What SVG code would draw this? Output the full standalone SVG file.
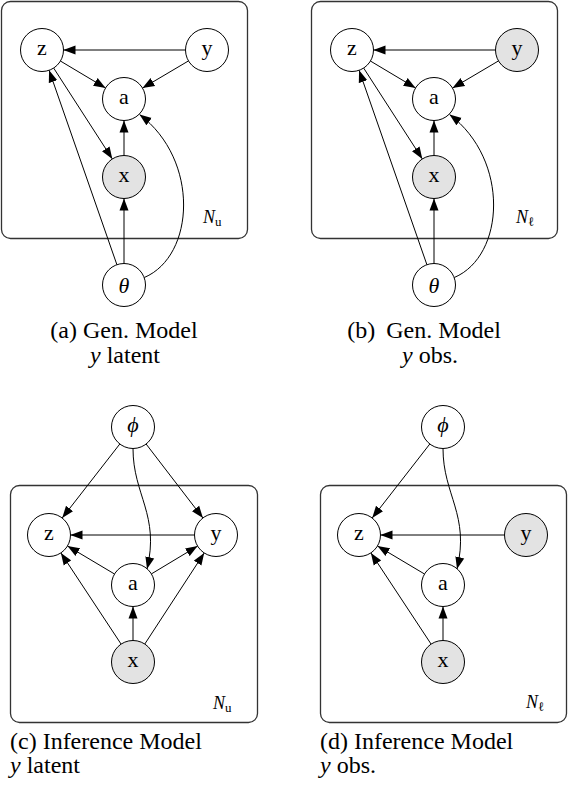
<svg xmlns="http://www.w3.org/2000/svg" width="568" height="786" viewBox="0 0 568 786" font-family="'Liberation Serif', 'Times New Roman', serif">
<defs>
<marker id="arr" markerUnits="userSpaceOnUse" markerWidth="12" markerHeight="10" viewBox="0 0 12 10" refX="12" refY="5" orient="auto">
<path d="M0,0.5 L12,5 L0,9.5 z" fill="#000"/>
</marker>
<style>
.plate{fill:none;stroke:#333;stroke-width:1.3}
.edge{fill:none;stroke:#000;stroke-width:1;marker-end:url(#arr)}
circle{fill:#fff;stroke:#000;stroke-width:1}
circle.obs{fill:#e3e3e3}
text{fill:#000}
.lbl{font-size:22px;text-anchor:middle}
.it{font-style:italic}
.nl{font-size:18px;font-style:italic}
.sub{font-size:13px;font-style:normal}
.cap{font-size:24px}
.mid{text-anchor:middle}
</style>
</defs>
<rect width="568" height="786" fill="#fff"/>

<!-- Panel (a) -->
<g id="panel-a">
<rect class="plate" x="1.5" y="1.5" width="246" height="237" rx="9"/>
<g id="edges-a">
<path class="edge" d="M185.5,50 L63.5,50"/>
<path class="edge" d="M60.4,61 L105.6,88"/>
<path class="edge" d="M188.5,60.9 L142.5,88.1"/>
<path class="edge" d="M53.7,68.1 L112.3,158.9"/>
<path class="edge" d="M124,155.5 L124,120.5"/>
<path class="edge" d="M124,263.5 L124,198.5"/>
<path class="edge" d="M116.9,264.7 L49.1,70.3"/>
<path class="edge" d="M144.3,277.5 C195,256 200,160 139.5,114.5"/>
</g>
<g id="a-z"><circle cx="42" cy="50" r="21.5"/><text class="lbl" x="42" y="55">z</text></g>
<g id="a-y"><circle cx="207" cy="50" r="21.5"/><text class="lbl" x="207" y="55">y</text></g>
<g id="a-a"><circle cx="124" cy="99" r="21.5"/><text class="lbl" x="124" y="104">a</text></g>
<g id="a-x"><circle class="obs" cx="124" cy="177" r="21.5"/><text class="lbl" x="124" y="182">x</text></g>
<g id="a-theta"><circle cx="124" cy="285" r="21.5"/><text class="lbl it" x="124" y="293">θ</text></g>
<text class="nl" x="203" y="223">N<tspan class="sub" dy="3">u</tspan></text>
<text class="cap mid" x="124" y="338">(a) Gen. Model</text>
<text class="cap mid" x="125" y="363"><tspan class="it">y</tspan> latent</text>
</g>

<!-- Panel (b) -->
<g id="panel-b" transform="translate(310,0)">
<rect class="plate" x="1.5" y="1.5" width="246" height="237" rx="9"/>
<g id="edges-b">
<path class="edge" d="M185.5,50 L63.5,50"/>
<path class="edge" d="M60.4,61 L105.6,88"/>
<path class="edge" d="M188.5,60.9 L142.5,88.1"/>
<path class="edge" d="M53.7,68.1 L112.3,158.9"/>
<path class="edge" d="M124,155.5 L124,120.5"/>
<path class="edge" d="M124,263.5 L124,198.5"/>
<path class="edge" d="M116.9,264.7 L49.1,70.3"/>
<path class="edge" d="M144.3,277.5 C195,256 200,160 139.5,114.5"/>
</g>
<g id="b-z"><circle cx="42" cy="50" r="21.5"/><text class="lbl" x="42" y="55">z</text></g>
<g id="b-y"><circle class="obs" cx="207" cy="50" r="21.5"/><text class="lbl" x="207" y="55">y</text></g>
<g id="b-a"><circle cx="124" cy="99" r="21.5"/><text class="lbl" x="124" y="104">a</text></g>
<g id="b-x"><circle class="obs" cx="124" cy="177" r="21.5"/><text class="lbl" x="124" y="182">x</text></g>
<g id="b-theta"><circle cx="124" cy="285" r="21.5"/><text class="lbl it" x="124" y="293">θ</text></g>
<text class="nl" x="206" y="223">N<tspan class="sub it" dy="3">ℓ</tspan></text>
<text class="cap mid" x="114" y="338">(b) <tspan dx="5">Gen. Model</tspan></text>
<text class="cap mid" x="120" y="363"><tspan class="it">y</tspan> obs.</text>
</g>

<!-- Panel (c) -->
<g id="panel-c">
<rect class="plate" x="10.5" y="485.5" width="247" height="237" rx="9"/>
<g id="edges-c">
<path class="edge" d="M119.8,444 L62.2,518"/>
<path class="edge" d="M146.1,444 L202.9,518"/>
<path class="edge" d="M133,448.5 C133,495 160,515 147,569"/>
<path class="edge" d="M194.5,535 L70.5,535"/>
<path class="edge" d="M114.5,574 L67.5,546"/>
<path class="edge" d="M151.4,573.9 L197.6,546.1"/>
<path class="edge" d="M121.1,644.1 L60.9,552.9"/>
<path class="edge" d="M144.8,644 L204.2,553"/>
<path class="edge" d="M133,640.5 L133,606.5"/>
</g>
<g id="c-phi"><circle cx="133" cy="427" r="21.5"/><text class="lbl it" x="133" y="432">ϕ</text></g>
<g id="c-z"><circle cx="49" cy="535" r="21.5"/><text class="lbl" x="49" y="540">z</text></g>
<g id="c-y"><circle cx="216" cy="535" r="21.5"/><text class="lbl" x="216" y="540">y</text></g>
<g id="c-a"><circle cx="133" cy="585" r="21.5"/><text class="lbl" x="133" y="590">a</text></g>
<g id="c-x"><circle class="obs" cx="133" cy="662" r="21.5"/><text class="lbl" x="133" y="667">x</text></g>
<text class="nl" x="213" y="709">N<tspan class="sub" dy="3">u</tspan></text>
<text class="cap" x="10" y="749">(c) Inference Model</text>
<text class="cap" x="10" y="773"><tspan class="it">y</tspan> latent</text>
</g>

<!-- Panel (d) -->
<g id="panel-d" transform="translate(310,0)">
<rect class="plate" x="10.5" y="485.5" width="246" height="237" rx="9"/>
<g id="edges-d">
<path class="edge" d="M119.8,444 L62.2,518"/>
<path class="edge" d="M133,448.5 C133,495 160,515 147,569"/>
<path class="edge" d="M194.5,535 L70.5,535"/>
<path class="edge" d="M114.5,574 L67.5,546"/>
<path class="edge" d="M121.1,644.1 L60.9,552.9"/>
<path class="edge" d="M133,640.5 L133,606.5"/>
</g>
<g id="d-phi"><circle cx="133" cy="427" r="21.5"/><text class="lbl it" x="133" y="432">ϕ</text></g>
<g id="d-z"><circle cx="49" cy="535" r="21.5"/><text class="lbl" x="49" y="540">z</text></g>
<g id="d-y"><circle class="obs" cx="216" cy="535" r="21.5"/><text class="lbl" x="216" y="540">y</text></g>
<g id="d-a"><circle cx="133" cy="585" r="21.5"/><text class="lbl" x="133" y="590">a</text></g>
<g id="d-x"><circle class="obs" cx="133" cy="662" r="21.5"/><text class="lbl" x="133" y="667">x</text></g>
<text class="nl" x="216" y="708">N<tspan class="sub it" dy="3">ℓ</tspan></text>
<text class="cap" x="10" y="749">(d) Inference Model</text>
<text class="cap" x="10" y="773"><tspan class="it">y</tspan> obs.</text>
</g>
</svg>
